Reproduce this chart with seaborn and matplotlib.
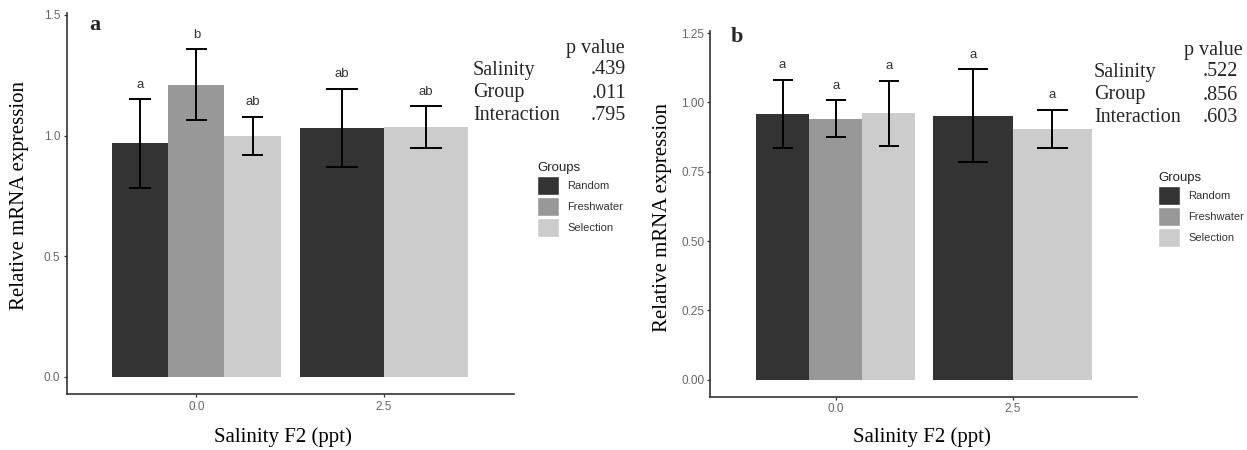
import numpy as np
import pandas as pd
import matplotlib
matplotlib.use("Agg")
import matplotlib.pyplot as plt
import seaborn as sns

# ---------------- data ----------------
salinity = ["0.0", "0.0", "0.0", "2.5", "2.5"]
groups = ["Random", "Freshwater", "Selection", "Random", "Selection"]
group_levels = ["Random", "Freshwater", "Selection"]
salinity_levels = ["0.0", "2.5"]

mean_a = [0.968, 1.211, 1.000, 1.031, 1.035]
se_a = [0.183, 0.147, 0.079, 0.162, 0.086]
letters_a = ["a", "b", "ab", "ab", "ab"]
pvals_a = [".439", ".011", ".795"]

mean_b = [0.958, 0.941, 0.961, 0.952, 0.904]
se_b = [0.123, 0.067, 0.117, 0.167, 0.070]
letters_b = ["a", "a", "a", "a", "a"]
pvals_b = [".522", ".856", ".603"]

effects = ["Salinity", "Group", "Interaction"]
yticks_a = [0.0, 0.5, 1.0, 1.5]
yticks_b = [0.0, 0.25, 0.5, 0.75, 1.0, 1.25]

palette = {"Random": "#333333", "Freshwater": "#989898", "Selection": "#cccccc"}

# ---------------- style ----------------
sns.set_theme(style="ticks")
plt.rcParams["font.family"] = ["Liberation Sans", "DejaVu Sans"]
SERIF = ["Liberation Serif", "DejaVu Serif"]

W, H = 1247, 450
fig = plt.figure(figsize=(W / 100, H / 100), dpi=100)
fig.patch.set_facecolor("white")


def px(x, y):
    return x / W, 1 - y / H


def panel(rect, mean, se, letters, ylim, xlim, yticks, yfmt, legend_xy):
    ax = fig.add_axes(rect)
    df = pd.DataFrame({"sal": salinity, "group": groups, "mean": mean,
                       "se": se, "letter": letters})
    handles = None
    for s in salinity_levels:
        sub = df[df["sal"] == s]
        present = [g for g in group_levels if g in list(sub["group"])]
        n0 = len(ax.containers)
        sns.barplot(data=sub, x="sal", y="mean", hue="group",
                    order=salinity_levels, hue_order=present,
                    palette=palette, width=0.9, errorbar=None,
                    saturation=1, linewidth=0, ax=ax,
                    legend=(len(present) == len(group_levels)))
        if ax.get_legend() is not None:
            leg = ax.get_legend()
            handles = list(leg.legend_handles)
            labels = [t.get_text() for t in leg.texts]
            leg.remove()
        new = ax.containers[n0:]
        for cont, g in zip(new, present):
            row = sub[sub["group"] == g].iloc[0]
            for bar in cont:
                xc = bar.get_x() + bar.get_width() / 2
                cw = bar.get_width() * 0.38
                m, e = row["mean"], row["se"]
                ax.vlines(xc, m - e, m + e, color="black", lw=1.4, zorder=5)
                ax.hlines([m - e, m + e], xc - cw / 2, xc + cw / 2,
                          color="black", lw=1.4, zorder=5)
                ax.annotate(row["letter"], (xc, m + e), xytext=(0, 10.5),
                            textcoords="offset points", ha="center",
                            va="center", fontsize=9.5, color="#333333")
    ax.set_ylim(*ylim)
    ax.set_xlim(*xlim)
    ax.set_yticks(yticks)
    ax.set_yticklabels([yfmt.format(v) for v in yticks])
    ax.set_xlabel("")
    ax.set_ylabel("")
    sns.despine(ax=ax)
    for sp in ["left", "bottom"]:
        ax.spines[sp].set_color("#333333")
        ax.spines[sp].set_linewidth(1.2)
    ax.tick_params(axis="both", length=2.5, width=0.9, color="#333333",
                   labelsize=8.5, labelcolor="#666666", pad=2)
    ax.set_facecolor("white")
    for h in handles:
        h.set_edgecolor("white")
        h.set_linewidth(1.0)
    lg = ax.legend(handles, labels, title="Groups", loc="upper left",
                   bbox_to_anchor=px(*legend_xy),
                   bbox_transform=fig.transFigure, frameon=False,
                   fontsize=8, title_fontsize=9.5, handlelength=2.0,
                   handleheight=2.3, labelspacing=0.15, handletextpad=0.7,
                   borderpad=0, borderaxespad=0, alignment="left")
    for t in lg.texts:
        t.set_color("#333333")
    lg.get_title().set_color("#222222")
    return ax


# panel a
ax_a = panel([66.7 / W, 1 - 394.3 / H, (514 - 66.7) / W, (394.3 - 13.3) / H],
             mean_a, se_a, letters_a, (-0.0717, 1.507), (-0.691, 1.693),
             yticks_a, "{:.1f}", (537, 162))
# panel b
ax_b = panel([710.4 / W, 1 - 396.7 / H, (1137 - 710.4) / W, (396.7 - 30.7) / H],
             mean_b, se_b, letters_b, (-0.0613, 1.2586), (-0.708, 1.703),
             yticks_b, "{:.2f}", (1158, 172))

# axis titles
fig.text(*px(20, 195), "Relative mRNA expression", rotation=90, ha="center",
         va="center", fontsize=15, family=SERIF, color="black")
fig.text(*px(663, 217), "Relative mRNA expression", rotation=90, ha="center",
         va="center", fontsize=15, family=SERIF, color="black")
fig.text(*px(283, 437), "Salinity F2 (ppt)", ha="center", va="center",
         fontsize=15, family=SERIF, color="black")
fig.text(*px(922, 437), "Salinity F2 (ppt)", ha="center", va="center",
         fontsize=15, family=SERIF, color="black")

# panel letters
fig.text(*px(89, 30), "a", ha="left", va="baseline", fontsize=16,
         fontweight="bold", family=SERIF)
fig.text(*px(731, 41.5), "b", ha="left", va="baseline", fontsize=16,
         fontweight="bold", family=SERIF)


# p-value tables
def table(xl, xr, xr_head, ys, pv):
    fig.text(*px(xr_head, ys[0]), "p value", ha="right", va="center",
             fontsize=14.5, family=SERIF)
    for eff, p, y in zip(effects, pv, ys[1:]):
        fig.text(*px(xl, y), eff, ha="left", va="center", fontsize=14.5,
                 family=SERIF)
        fig.text(*px(xr, y), p, ha="right", va="center", fontsize=14.5,
                 family=SERIF)


table(473, 626, 625, [48, 70, 93, 116], pvals_a)
table(1094, 1238, 1243, [50, 72, 95, 117.5], pvals_b)

fig.savefig("out.png", dpi=100, facecolor="white")
